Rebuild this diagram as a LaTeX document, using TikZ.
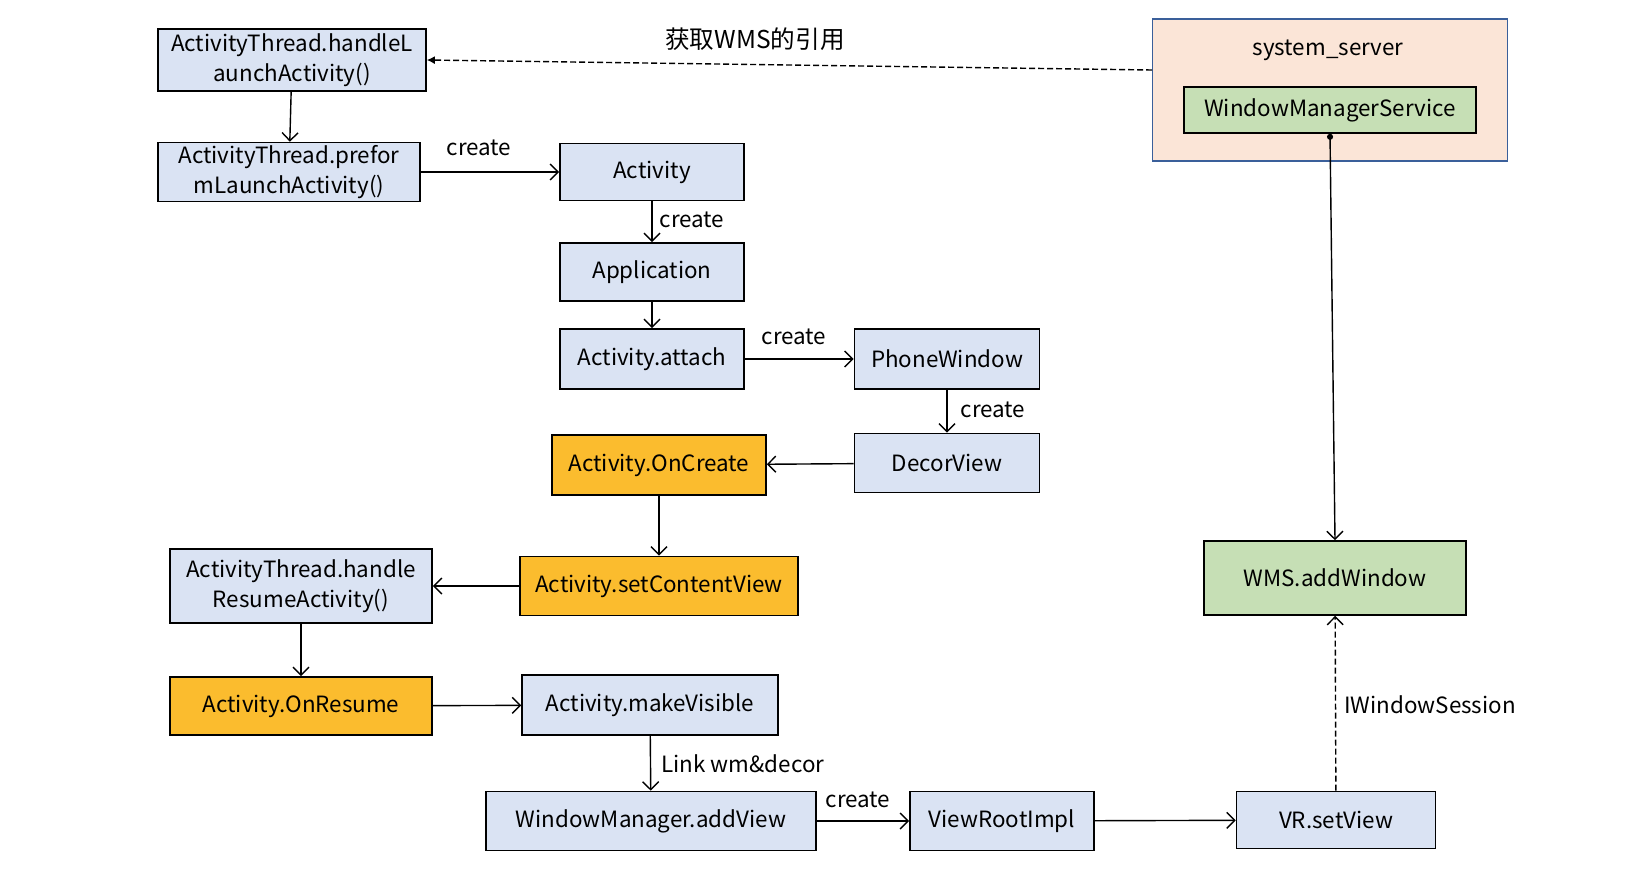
\documentclass[tikz,border=0pt]{standalone}
\usepackage{fontspec}
\setmainfont{Noto Sans CJK SC}
\usetikzlibrary{arrows.meta}
\definecolor{bluefill}{HTML}{DAE3F3}
\definecolor{orangefill}{HTML}{FBBC2E}
\definecolor{greenfill}{HTML}{C6DFB5}
\definecolor{peachfill}{HTML}{FBE5D7}
\definecolor{sysborder}{HTML}{3A5F9A}
\tikzset{
  box/.style={draw=black, line width=0.8pt, fill=bluefill, align=center, inner sep=0pt,
    font=\fontsize{11.2}{15}\selectfont},
  obox/.style={box, fill=orangefill},
  gbox/.style={box, fill=greenfill},
  arr/.style={line width=0.7pt, -{Straight Barb[length=4pt,width=8pt,line width=0.7pt]}},
  lbl/.style={font=\fontsize{11.2}{14}\selectfont, inner sep=0pt},
}
\begin{document}
\begin{tikzpicture}[x=0.5pt,y=-0.5pt]
\useasboundingbox (0,0) rectangle (1644,894);
% system server
\node[draw=sysborder, line width=0.8pt, fill=peachfill, minimum width=177.5pt, minimum height=71pt, inner sep=0pt] (sys) at (1330,90) {};
\node[lbl] (syslbl) at (1328,50) {system\_server};
\node[gbox, minimum width=146pt, minimum height=23pt] (wms) at (1330,110) {WindowManagerService};
\coordinate (sysl) at (1152,70);

\node[box, minimum width=134pt, minimum height=31pt] (hl) at (292,60) {ActivityThread.handleL\\aunchActivity()};
\node[box, minimum width=131pt, minimum height=29.5pt] (pl) at (289,172) {ActivityThread.prefor\\mLaunchActivity()};
\node[box, minimum width=92pt, minimum height=28.5pt] (act) at (652,172) {Activity};
\node[box, minimum width=92pt, minimum height=29pt] (app) at (652,272) {Application};
\node[box, minimum width=92pt, minimum height=30pt] (att) at (652,359) {Activity.attach};
\node[box, minimum width=92.5pt, minimum height=30pt] (pw) at (947,359) {PhoneWindow};
\node[box, minimum width=92.5pt, minimum height=29.5pt] (dv) at (947,463) {DecorView};
\node[obox, minimum width=107pt, minimum height=30pt] (onc) at (659,465) {Activity.OnCreate};
\node[obox, minimum width=139pt, minimum height=29.5pt] (scv) at (659,586) {Activity.setContentView};
\node[box, minimum width=131pt, minimum height=37pt] (hr) at (301,586) {ActivityThread.handle\\ResumeActivity()};
\node[obox, minimum width=131pt, minimum height=29pt] (onr) at (301,706) {Activity.OnResume};
\node[box, minimum width=128pt, minimum height=30pt] (mv) at (650,705) {Activity.makeVisible};
\node[box, minimum width=165pt, minimum height=29.5pt] (av) at (651,821) {WindowManager.addView};
\node[box, minimum width=92pt, minimum height=29.5pt] (vri) at (1002,821) {ViewRootImpl};
\node[box, minimum width=99.5pt, minimum height=28.5pt] (vs) at (1336,820) {VR.setView};
\node[gbox, minimum width=131pt, minimum height=37pt] (wa) at (1335,578) {WMS.addWindow};

% connectors
\draw[line width=0.7pt, dashed, dash pattern=on 3pt off 1.5pt, -{Latex[length=4pt,width=4pt]}] (sysl) -- (hl.east);
\node[lbl, font=\fontsize{12.3}{14}\selectfont] (lwms) at (755,39) {获取WMS的引用};
\draw[arr] (hl) -- (pl);
\draw[arr] (pl) -- (act);
\node[lbl] (l1) at (479,148) {create};
\draw[arr] (act) -- (app);
\node[lbl] (l2) at (692,220) {create};
\draw[arr] (app) -- (att);
\draw[arr] (att) -- (pw);
\node[lbl] (l3) at (794,337) {create};
\draw[arr] (pw) -- (dv);
\node[lbl] (l4) at (993,410) {create};
\draw[arr] (dv) -- (onc);
\draw[arr] (onc) -- (scv);
\draw[arr] (scv) -- (hr);
\draw[arr] (hr) -- (onr);
\draw[arr] (onr) -- (mv);
\draw[arr] (mv) -- (av);
\node[lbl] (l5) at (743,764) {Link wm\&decor};
\draw[arr] (av) -- (vri);
\node[lbl] (l6) at (858,800) {create};
\draw[arr] (vri) -- (vs);
\draw[line width=0.7pt, dashed, dash pattern=on 3pt off 1.5pt, -{Straight Barb[length=4pt,width=8pt,line width=0.7pt]}] (vs) -- (wa);
\node[lbl] (l7) at (1430,705) {IWindowSession};
\draw[line width=0.7pt, {Circle[length=3pt]}-{Straight Barb[length=4pt,width=8pt,line width=0.7pt]}] (wms.south) -- (wa.north);
\end{tikzpicture}
\end{document}
